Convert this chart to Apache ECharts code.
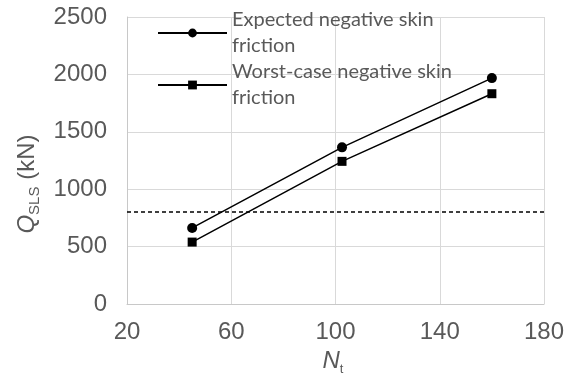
<!DOCTYPE html>
<html>
<head>
<meta charset="utf-8">
<script src="https://cdn.jsdelivr.net/npm/echarts@6/dist/echarts.min.js"></script>
<style>
  html, body { margin: 0; padding: 0; background: #ffffff; }
  #chart { width: 572px; height: 381px; }
</style>
</head>
<body>
<div id="chart"></div>
<script>
// ---- data ----
const xValues = [45, 102.5, 160];
const expectedQ = [663, 1365, 1968];
const worstCaseQ = [540, 1243, 1832];
const thresholdQ = 800;
const seriesNames = ['Expected negative skin friction', 'Worst-case negative skin friction'];
const xAxisRange = [20, 180, 40];   // min, max, interval
const yAxisRange = [0, 2500, 500];  // min, max, interval

// ---- chart ----
const chart = echarts.init(document.getElementById('chart'), null, { renderer: 'canvas' });

const gray = '#595959';
const tickFont = 'Liberation Sans, Arial, sans-serif';
const legendFont = 'Lato, Calibri, sans-serif';

function pairs(xs, ys) { return xs.map((x, i) => [x, ys[i]]); }

function legendFor(name, top) {
  return {
    data: [name],
    left: 157,
    top: top,
    padding: 0,
    itemWidth: 69,
    itemHeight: 11,
    formatter: (n) => n.replace(' friction', '\nfriction'),
    textStyle: {
      fontFamily: legendFont,
      fontSize: 20,
      color: gray,
      lineHeight: 26,
      padding: [26, 0, 0, 0]
    }
  };
}

const option = {
  backgroundColor: '#ffffff',
  animation: false,
  grid: { left: 127, right: 28, top: 17, bottom: 71, containLabel: false },
  legend: [legendFor(seriesNames[0], -6), legendFor(seriesNames[1], 46)],
  xAxis: {
    type: 'value',
    min: xAxisRange[0], max: xAxisRange[1], interval: xAxisRange[2],
    axisLine: { show: true, lineStyle: { color: '#c8c8c8', width: 1 } },
    axisTick: { show: false },
    splitLine: { show: true, lineStyle: { color: '#d9d9d9', width: 1 } },
    axisLabel: { fontFamily: tickFont, fontSize: 24, color: gray, margin: 16, formatter: (v) => String(v) },
    name: '{i|N}{sub|t}',
    nameLocation: 'middle',
    nameGap: 37,
    nameTextStyle: {
      padding: [0, 5, 0, 0],
      rich: {
        i: { fontFamily: tickFont, fontSize: 24, fontStyle: 'italic', color: gray, lineHeight: 30 },
        sub: { fontFamily: tickFont, fontSize: 13, color: gray, lineHeight: 13, verticalAlign: 'bottom' }
      }
    }
  },
  yAxis: {
    type: 'value',
    min: yAxisRange[0], max: yAxisRange[1], interval: yAxisRange[2],
    axisLine: { show: true, lineStyle: { color: '#c8c8c8', width: 1 } },
    axisTick: { show: false },
    splitLine: { show: true, lineStyle: { color: '#d9d9d9', width: 1 } },
    axisLabel: { fontFamily: tickFont, fontSize: 24, color: gray, margin: 20, formatter: (v) => String(v) },
    name: '{i|Q}{sub|SLS}{n| (kN)}',
    nameLocation: 'middle',
    nameGap: 85,
    nameRotate: 90,
    nameTextStyle: {
      padding: [0, 47, 0, 0],
      rich: {
        i: { fontFamily: tickFont, fontSize: 24, fontStyle: 'italic', color: gray, lineHeight: 30 },
        sub: { fontFamily: tickFont, fontSize: 15, color: gray, lineHeight: 15, verticalAlign: 'bottom' },
        n: { fontFamily: tickFont, fontSize: 24, color: gray, lineHeight: 30 }
      }
    }
  },
  series: [
    {
      name: seriesNames[0],
      type: 'line',
      data: pairs(xValues, expectedQ),
      symbol: 'circle',
      symbolSize: 10,
      lineStyle: { color: '#000000', width: 1.5 },
      itemStyle: { color: '#000000' },
      markLine: {
        silent: true,
        symbol: ['none', 'none'],
        label: { show: false },
        lineStyle: { color: '#000000', type: [4, 3], width: 1.5 },
        data: [{ yAxis: thresholdQ }]
      }
    },
    {
      name: seriesNames[1],
      type: 'line',
      data: pairs(xValues, worstCaseQ),
      symbol: 'rect',
      symbolSize: 9,
      lineStyle: { color: '#000000', width: 1.5 },
      itemStyle: { color: '#000000' }
    }
  ]
};

chart.setOption(option);
</script>
</body>
</html>
